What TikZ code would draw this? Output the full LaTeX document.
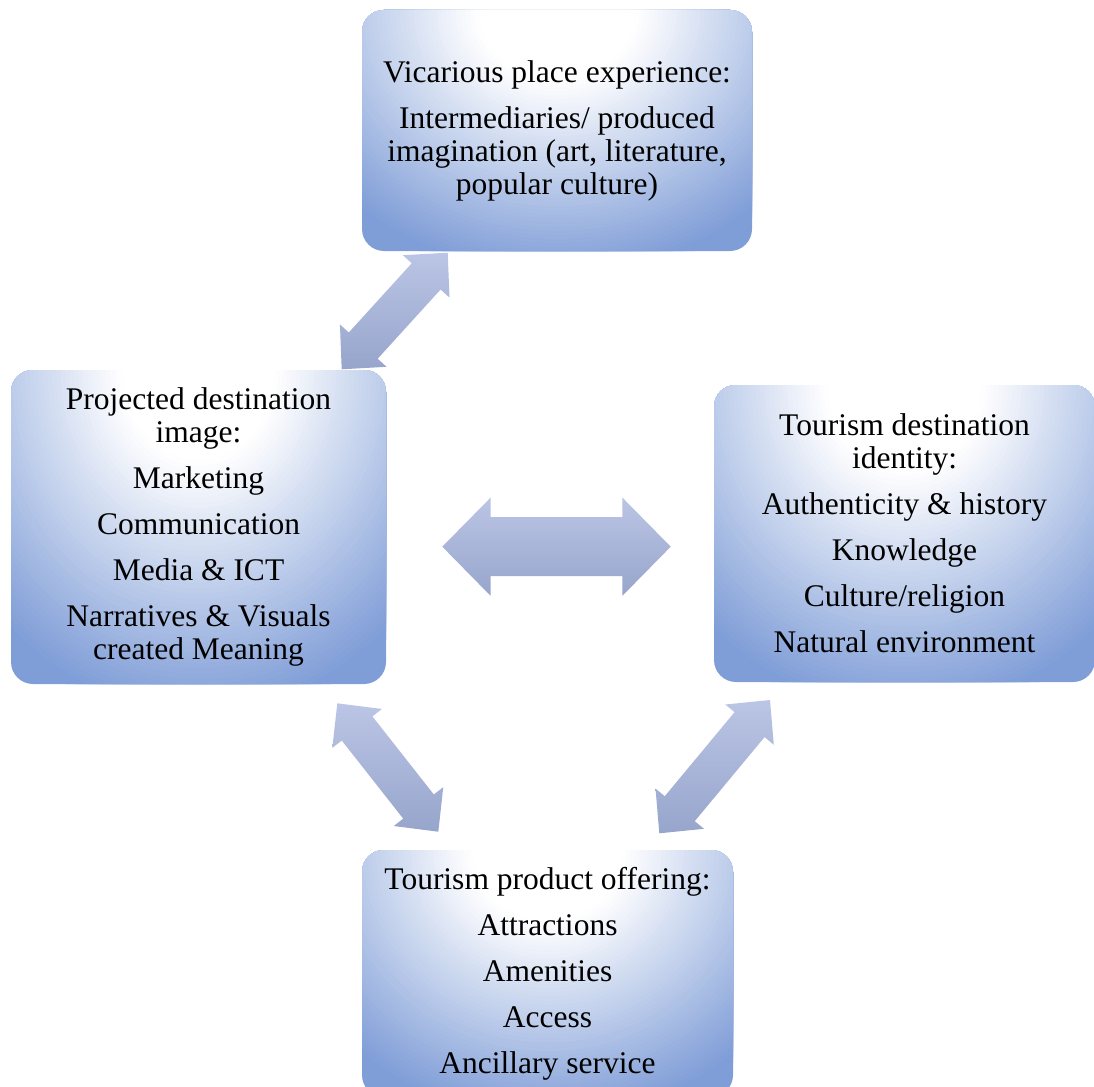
\documentclass[tikz,border=0pt]{standalone}
\usepackage{fontspec}
\setmainfont{Liberation Serif}
\usetikzlibrary{calc}

\definecolor{glowE}{HTML}{7F9DD7}
\definecolor{arrTop}{HTML}{BBC5E5}
\definecolor{arrBot}{HTML}{97A5CC}

\tikzset{
  % rounded box, blue at the rim, brightening to white at the top middle
  infobox/.style={fill=glowE, rounded corners=22pt, align=center,
    inner sep=0pt, font=\fontsize{31.5}{33}\selectfont,
    path picture={
      \foreach \k in {0,...,50} {
        \pgfmathsetmacro\dd{1.12-\k*0.017}
        \pgfmathsetmacro\ww{min(100,max(0,137.5-125*\dd))}
        \fill[white!\ww!glowE]
          let \p1=(path picture bounding box.south west),
              \p2=(path picture bounding box.north east) in
          ({(\x1+\x2)/2},\y2) ellipse [x radius={0.7*\dd*(\x2-\x1)}, y radius={\dd*(\y2-\y1)}];
      }
    }},
  blockarrow/.style={top color=arrTop, bottom color=arrBot, draw=none},
}

% double-headed block arrow between two tips
% #1,#2 tips, #3 head length, #4 head half width, #5 shaft half width
\newcommand\dblblock[5]{%
  \shade[blockarrow] (#2)
    -- ($(#2)!#3!(#1)!#4!90:(#1)$)
    -- ($(#2)!#3!(#1)!#5!90:(#1)$)
    -- ($(#1)!#3!(#2)!#5!-90:(#2)$)
    -- ($(#1)!#3!(#2)!#4!-90:(#2)$)
    -- (#1)
    -- ($(#1)!#3!(#2)!#4!90:(#2)$)
    -- ($(#1)!#3!(#2)!#5!90:(#2)$)
    -- ($(#2)!#3!(#1)!#5!-90:(#1)$)
    -- ($(#2)!#3!(#1)!#4!-90:(#1)$)
    -- cycle;}

\begin{document}
\begin{tikzpicture}[x=1pt, y=-1pt]
  \useasboundingbox (0,0) rectangle (1094,1086);
  \clip (0,0) rectangle (1094,1086);

  \node[infobox, minimum width=390pt, minimum height=241pt] (vicarious) at (557,130.5)
    {Vicarious place experience:\\[13pt]
     Intermediaries/ produced\\imagination (art, literature,\\popular culture)};

  \node[infobox, minimum width=375pt, minimum height=314pt] (projected) at (198.5,527)
    {Projected destination\\image:\\[13pt]
     Marketing\\[13pt]
     Communication\\[13pt]
     Media \& ICT\\[13pt]
     Narratives \& Visuals\\created Meaning};

  \node[infobox, minimum width=381pt, minimum height=297pt] (identity) at (904.5,533.5)
    {Tourism destination\\identity:\\[13pt]
     Authenticity \& history\\[13pt]
     Knowledge\\[13pt]
     Culture/religion\\[13pt]
     Natural environment};

  \node[infobox, minimum width=371pt, minimum height=247pt] (product) at (547.5,973.5)
    {Tourism product offering:\\[13pt]
     Attractions\\[13pt]
     Amenities\\[13pt]
     Access\\[13pt]
     Ancillary service};

  % arrow tips between the boxes
  \coordinate (pv) at (341.7,369.3);
  \coordinate (vp) at (447.7,252.7);
  \coordinate (pi) at (442.3,546.7);
  \coordinate (ip) at (670.7,546.7);
  \coordinate (pt) at (337.3,703.3);
  \coordinate (tp) at (438.3,831.7);
  \coordinate (ti) at (659.3,833.3);
  \coordinate (it) at (770,700);

  \dblblock{pv}{vp}{32pt}{31.5pt}{19.5pt}
  \dblblock{pi}{ip}{48.4pt}{49.2pt}{29.5pt}
  \dblblock{pt}{tp}{32pt}{31.5pt}{19.5pt}
  \dblblock{ti}{it}{32pt}{31.5pt}{19.5pt}
\end{tikzpicture}
\end{document}
